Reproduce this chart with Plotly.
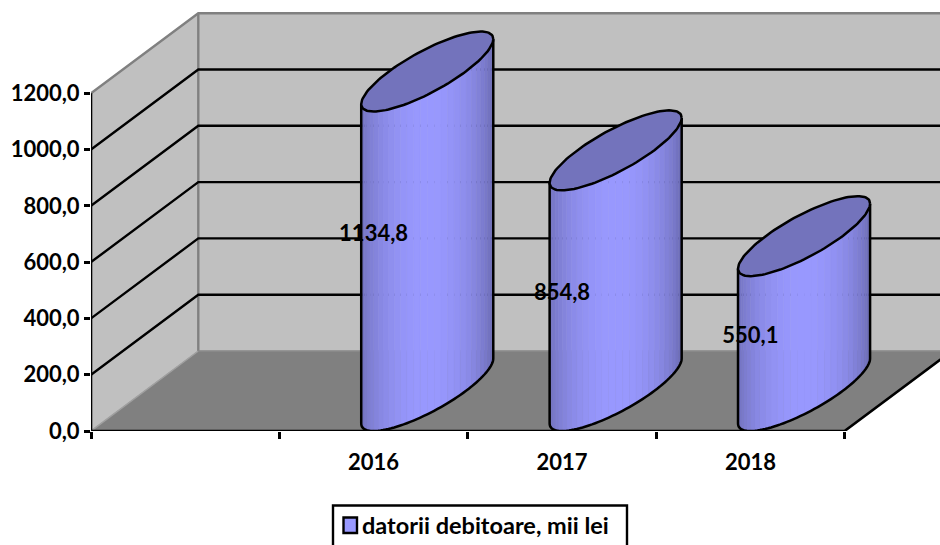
import math
import plotly.graph_objects as go

# ---- data ----
categories = ["2016", "2017", "2018"]
values = [1134.8, 854.8, 550.1]
series_name = "datorii debitoare, mii lei"
y_ticks = [0, 200, 400, 600, 800, 1000, 1200]
label_heights = [694, 486, 333]      # where the data labels sit, in axis units

# ---- style / geometry ----
FONT = "Lato"
W, H = 940, 545
L_M, B_M = 91, 114
PX_SLOT = 188.4
PX_VAL = 0.2815
DX = 107.3 / PX_SLOT      # oblique projection of unit depth, in axis units
DY = 80 / PX_VAL
HALF_W = 38.5 / PX_SLOT
first_slot = 1            # slot 0 of the category axis is empty
n_slots = 4


def proj(slot, depth, val):
    return slot + depth * DX, val + depth * DY


def poly(points):
    xs, ys = zip(*points)
    return list(xs), list(ys)


fig = go.Figure()


def area(points, fill, line=None, lw=0):
    xs, ys = poly(points + points[:1])
    fig.add_trace(go.Scatter(
        x=xs, y=ys, mode="lines", fill="toself", fillcolor=fill,
        line=dict(color=line or fill, width=lw if lw else 0.5),
        hoverinfo="skip", showlegend=False, cliponaxis=False))


def stroke(points, color="#000000", lw=2.4):
    xs, ys = poly(points)
    fig.add_trace(go.Scatter(
        x=xs, y=ys, mode="lines", line=dict(color=color, width=lw, simplify=False),
        hoverinfo="skip", showlegend=False, cliponaxis=False))


top = y_ticks[-1]
# walls and floor
area([proj(0, 0, 0), proj(0, 1, 0), proj(0, 1, top), proj(0, 0, top)], "#C0C0C0")
area([proj(0, 1, 0), proj(n_slots, 1, 0), proj(n_slots, 1, top), proj(0, 1, top)], "#C0C0C0")
area([proj(0, 0, 0), proj(n_slots, 0, 0), proj(n_slots, 1, 0), proj(0, 1, 0)], "#808080")

# wall edges
stroke([proj(0, 0, top), proj(0, 1, top), proj(n_slots, 1, top)], "#808080", 2.4)
stroke([proj(0, 1, 0), proj(0, 1, top)], "#808080", 2.4)
stroke([proj(0, 0, 0), proj(0, 1, 0)], "#A0A0A0", 1.5)
stroke([proj(0, 1, 0), proj(n_slots, 1, 0)], "#8C8C8C", 1.5)

# gridlines on both walls
for v in y_ticks[1:-1]:
    stroke([proj(0, 0, v), proj(0, 1, v), proj(n_slots, 1, v)])

# axis lines (front edges)
stroke([proj(0, 0, 0), proj(0, 0, top)], lw=2.6)
stroke([proj(0, 0, 0), proj(n_slots, 0, 0), proj(n_slots, 1, 0)], lw=2.6)


def shade(f):
    # bright in the middle of the cylinder, darker towards both edges
    s = math.sin(math.pi * min(1, max(0, f * 0.96 + 0.02)))
    edge = 0.74 - 0.06 * f
    k = edge + (1 - edge) * s ** 1.6
    return "rgb(%d,%d,%d)" % (153 * k, 153 * k, 255 * k)


# cylinders
t0 = math.atan2(0.5 * DX, HALF_W)
N = 30
for i, val in enumerate(values):
    c = first_slot + i + 0.5

    def rim(t, level):
        return proj(c + HALF_W * math.cos(t), 0.5 + 0.5 * math.sin(t), level)

    ts = [t0 + math.pi + math.pi * j / N for j in range(N + 1)]
    for j in range(N):
        a, b = ts[j], ts[j + 1]
        pts = [rim(a, 0), rim(b, 0), rim(b, val), rim(a, val)]
        area(pts, shade((j + 0.5) / N))
    fine = [t0 + math.pi + math.pi * j / 60 for j in range(61)]
    stroke([rim(fine[0], val)] + [rim(t, 0) for t in fine] + [rim(fine[-1], val)], lw=2.5)
    ring = [t0 + 2 * math.pi * j / 120 for j in range(121)]
    area([rim(t, val) for t in ring], "#7373BC", "#000000", 2.5)

# data labels
fig.add_trace(go.Scatter(
    x=[first_slot + i + 0.5 for i in range(len(values))],
    y=label_heights,
    mode="text",
    text=[f"{v:.1f}".replace(".", ",") for v in values],
    textposition="middle center",
    textfont=dict(family=FONT, size=22, color="#000000", weight="bold"),
    hoverinfo="skip", showlegend=False, cliponaxis=False))

# legend entry
fig.add_trace(go.Scatter(
    x=[None], y=[None], mode="markers", name=series_name,
    marker=dict(symbol="square", size=14, color="rgba(0,0,0,0)",
                line=dict(color="rgba(0,0,0,0)", width=0)),
    showlegend=True))

# legend frame running off the bottom of the page
plot_w, plot_h = W - L_M, H - B_M


def px(x):
    return (x - L_M) / plot_w


def py(y):
    return (H - B_M - y) / plot_h


fig.add_shape(type="path", xref="paper", yref="paper", layer="above",
              path=f"M {px(333)} {py(560)} L {px(333)} {py(505.5)} L {px(627)} {py(505.5)} L {px(627)} {py(560)}",
              line=dict(color="#000000", width=2.4))
fig.add_shape(type="rect", xref="paper", yref="paper", layer="above",
              x0=px(343.5), x1=px(357), y0=py(517.5), y1=py(533),
              fillcolor="#9999FF", line=dict(color="#000000", width=2.4))

fig.update_layout(
    width=W, height=H, autosize=False,
    paper_bgcolor="#FFFFFF", plot_bgcolor="rgba(0,0,0,0)",
    margin=dict(l=L_M, r=0, t=0, b=B_M, pad=0, autoexpand=False),
    font=dict(family=FONT, size=20, color="#000000", weight="bold"),
    separators=",.",
    hovermode=False,
    xaxis=dict(range=[0, plot_w / PX_SLOT], showgrid=False, zeroline=False, showline=False,
               tickmode="array",
               tickvals=[first_slot + i + 0.5 for i in range(len(categories))],
               ticktext=categories, ticks="", ticklabelstandoff=16,
               minor=dict(tickmode="array", tickvals=list(range(n_slots + 1)), ticks="outside",
                          ticklen=7, tickwidth=2.5, tickcolor="#000000", showgrid=False),
               tickfont=dict(family=FONT, size=22, color="#000000", weight="bold")),
    yaxis=dict(range=[0, plot_h / PX_VAL], showgrid=False, zeroline=False, showline=False,
               tickmode="array", tickvals=y_ticks,
               tickformat=".1f", ticks="outside", ticklen=6, tickwidth=2.5, tickcolor="#000000",
               tickfont=dict(family=FONT, size=22, color="#000000", weight="bold")),
    legend=dict(x=px(322), y=py(503), xanchor="left", yanchor="top",
                bgcolor="rgba(255,255,255,0)", borderwidth=0, itemsizing="trace",
                font=dict(family=FONT, size=23.5, color="#000000", weight="bold")),
)

fig.write_html("out.html", config={"displayModeBar": False},
               post_script="document.body.style.margin='0';document.documentElement.style.overflow='hidden';")
